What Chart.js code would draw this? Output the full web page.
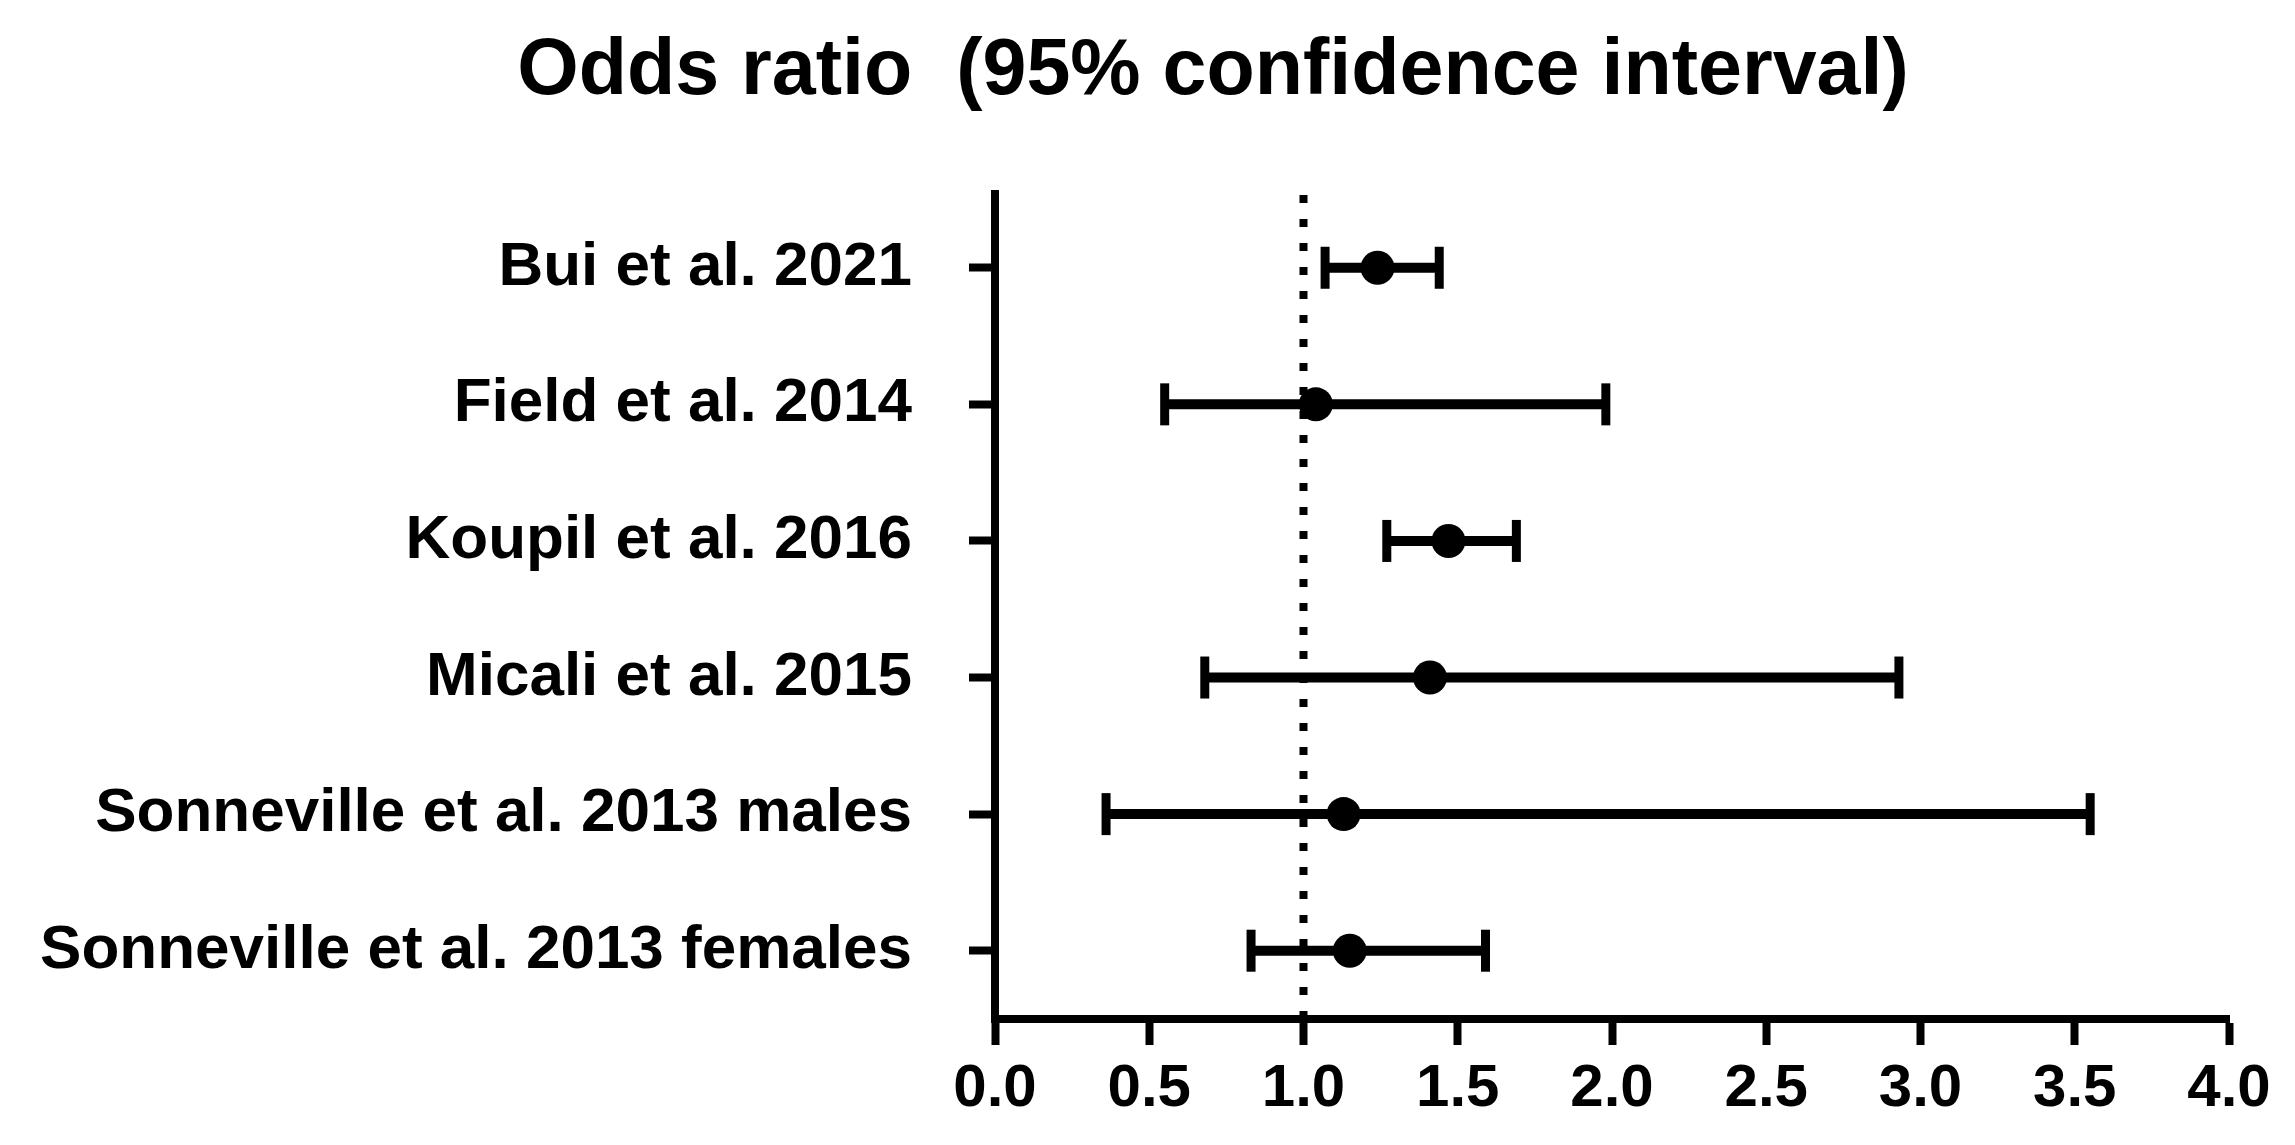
<!DOCTYPE html>
<html lang="en">
<head>
    <meta charset="UTF-8">
    <title>Odds ratio (95% confidence interval)</title>
    <script src="https://cdn.jsdelivr.net/npm/chart.js"></script>
    <style>
        body {
            margin: 0;
            background-color: #fff;
        }
    </style>
</head>
<body>
    <canvas id="forestChart" width="2295" height="1145"></canvas>

    <script>
        // study rows, top to bottom
        const studies = [
            'Bui et al. 2021',
            'Field et al. 2014',
            'Koupil et al. 2016',
            'Micali et al. 2015',
            'Sonneville et al. 2013 males',
            'Sonneville et al. 2013 females'
        ];
        const oddsRatio = [1.24, 1.04, 1.47, 1.41, 1.13, 1.15];
        const ciLow     = [1.07, 0.55, 1.27, 0.68, 0.36, 0.83];
        const ciHigh    = [1.44, 1.98, 1.69, 2.93, 3.55, 1.59];
        const xTicks = [0, 0.5, 1, 1.5, 2, 2.5, 3, 3.5, 4];
        const refLine = 1;
        const chartTitle = 'Odds ratio  (95% confidence interval)';

        const yMin = 0.5;
        const yMax = 6.54;
        const rowOf = i => studies.length - i;   // Bui at the top

        const fontFamily = "'Liberation Sans', Arial, sans-serif";

        const datasets = [];

        // dotted line of no effect
        datasets.push({
            label: 'OR = 1',
            data: [{ x: refLine, y: yMin }, { x: refLine, y: yMax }],
            borderColor: '#000',
            borderWidth: 8,
            borderDash: [8, 16],
            pointRadius: 0,
            order: 3
        });

        // confidence interval bars with caps
        studies.forEach((s, i) => {
            datasets.push({
                label: s + ' CI',
                data: [{ x: ciLow[i], y: rowOf(i) }, { x: ciHigh[i], y: rowOf(i) }],
                borderColor: '#000',
                borderWidth: 10,
                pointStyle: 'line',
                rotation: 90,
                pointRadius: 21,
                pointHoverRadius: 21,
                pointBorderWidth: 9,
                pointBorderColor: '#000',
                order: 2
            });
        });

        // point estimates
        datasets.push({
            label: 'Odds ratio',
            data: studies.map((s, i) => ({ x: oddsRatio[i], y: rowOf(i) })),
            showLine: false,
            pointRadius: 17,
            pointHoverRadius: 17,
            pointBackgroundColor: '#000',
            pointBorderWidth: 0,
            order: 1
        });

        // title sits left of the plot centre, so draw it ourselves
        const titlePlugin = {
            id: 'plotTitle',
            afterDraw(chart) {
                const c = chart.ctx;
                c.save();
                c.fillStyle = '#000';
                c.font = 'bold 79px ' + fontFamily;
                c.textAlign = 'center';
                c.textBaseline = 'middle';
                c.fillText(chartTitle, 1213, 72);
                c.restore();
            }
        };

        const ctx = document.getElementById('forestChart').getContext('2d');
        const chart = new Chart(ctx, {
            type: 'line',
            data: { datasets: datasets },
            plugins: [titlePlugin],
            options: {
                responsive: false,
                animation: false,
                layout: {
                    padding: { left: 0, right: 66, top: 194, bottom: 0 }
                },
                plugins: {
                    legend: { display: false },
                    tooltip: { enabled: false },
                    title: { display: false }
                },
                scales: {
                    x: {
                        type: 'linear',
                        min: 0,
                        max: 4,
                        afterBuildTicks: axis => { axis.ticks = xTicks.map(v => ({ value: v })); },
                        afterFit: scale => { scale.height = 1145 - 1019; },
                        ticks: {
                            color: '#000',
                            font: { family: fontFamily, size: 60, weight: 'bold' },
                            padding: 8,
                            callback: v => v.toFixed(1)
                        },
                        grid: {
                            drawOnChartArea: false,
                            drawTicks: true,
                            tickLength: 26,
                            tickWidth: 8,
                            tickColor: '#000'
                        },
                        border: { display: true, color: '#000', width: 8 }
                    },
                    y: {
                        type: 'linear',
                        min: yMin,
                        max: yMax,
                        afterBuildTicks: axis => { axis.ticks = studies.map((s, i) => ({ value: rowOf(i) })); },
                        afterFit: scale => { scale.width = 995; },
                        ticks: {
                            color: '#000',
                            font: { family: fontFamily, size: 62, weight: 'bold' },
                            padding: 57,
                            callback: v => studies[studies.length - v]
                        },
                        grid: {
                            drawOnChartArea: false,
                            drawTicks: true,
                            tickLength: 26,
                            tickWidth: 8,
                            tickColor: '#000'
                        },
                        border: { display: true, color: '#000', width: 8 }
                    }
                }
            }
        });
    </script>
</body>
</html>
